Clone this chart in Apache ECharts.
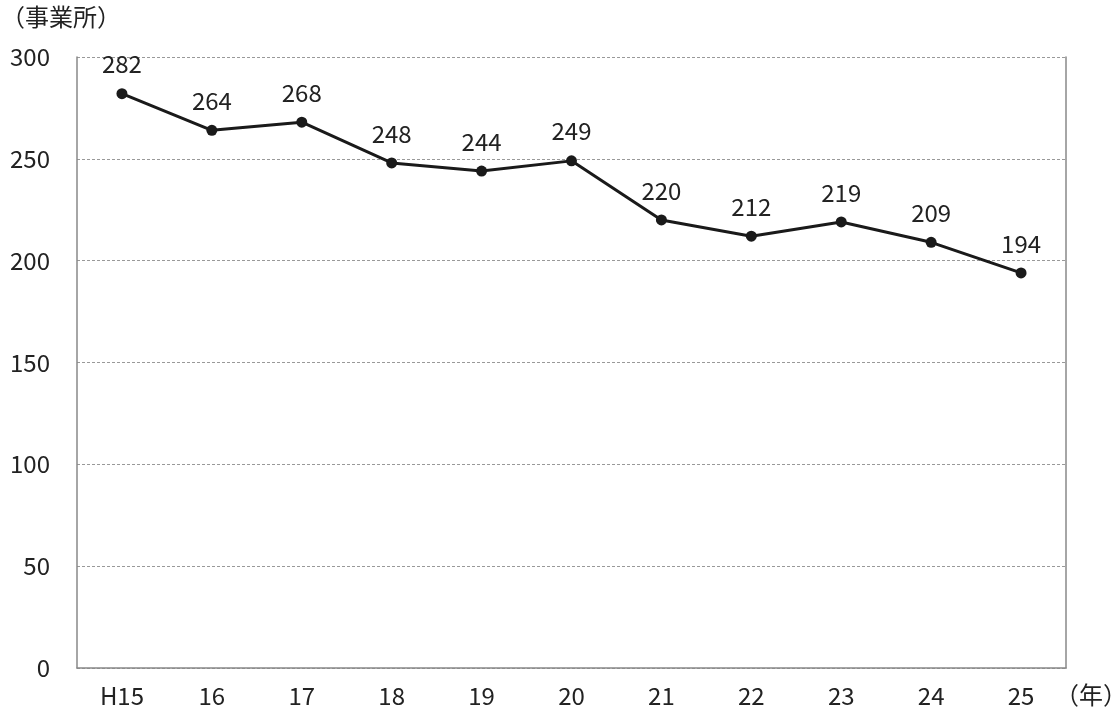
<!DOCTYPE html>
<html><head><meta charset="utf-8">
<script src="https://cdn.jsdelivr.net/npm/echarts@6/dist/echarts.min.js"></script>
<style>html,body{margin:0;padding:0;background:#fff}#c{width:1116px;height:720px}</style>
</head><body><div id="c"></div>
<script>
const categories = ['H15','16','17','18','19','20','21','22','23','24','25'];
const values = [282,264,268,248,244,249,220,212,219,209,194];
const yTicks = [0,50,100,150,200,250,300];
const yName = '（事業所）';
const xName = '（年）';
const FONT = '"Noto Sans CJK JP","Noto Sans",sans-serif';
const chart = echarts.init(document.getElementById('c'));
chart.setOption({
  animation:false,
  grid:{left:77,right:50,top:57,bottom:52,outerBoundsMode:'none',containLabel:false},
  graphic:[
    {type:'text',left:1,top:5,style:{text:yName,font:'24px '+FONT,fill:'#222'}},
    {type:'text',left:1055,top:683,style:{text:xName,font:'24px '+FONT,fill:'#222'}}
  ],
  xAxis:{type:'category',data:categories,boundaryGap:true,
    axisLine:{lineStyle:{color:'#888',width:1.5}},
    axisTick:{inside:true,length:8,lineStyle:{color:'#888',width:1.5}},
    axisLabel:{fontFamily:FONT,fontSize:24,color:'#222',margin:16}},
  yAxis:[{type:'value',min:0,max:300,interval:50,
    axisLine:{show:true,lineStyle:{color:'#888',width:1.5}},
    axisTick:{show:false},
    axisLabel:{fontFamily:FONT,fontSize:24,color:'#222',margin:27,
      formatter:v=>yTicks.includes(v)?String(v):''},
    splitLine:{lineStyle:{color:'#999',type:[3,2],width:1}}},
   {type:'value',min:0,max:300,interval:50,position:'right',
    axisLine:{show:true,lineStyle:{color:'#888',width:1.5}},
    axisTick:{show:false},axisLabel:{show:false},splitLine:{show:false}}],
  series:[{type:'line',data:values,yAxisIndex:0,
    lineStyle:{color:'#1a1a1a',width:3},
    itemStyle:{color:'#1a1a1a'},
    symbol:'circle',symbolSize:11,
    label:{show:true,position:'top',distance:12,fontFamily:FONT,fontSize:24,color:'#222'}}]
});
</script></body></html>
